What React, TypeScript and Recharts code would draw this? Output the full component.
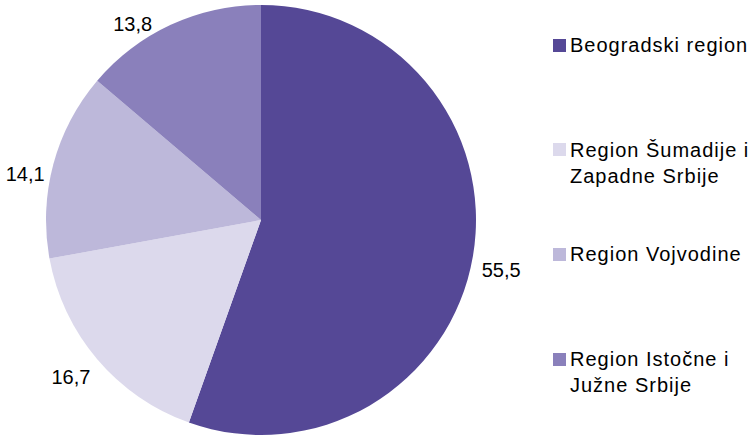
import React from 'react';
import { PieChart, Pie, Cell, Legend } from 'recharts';

const regions = ['Beogradski region', 'Region Šumadije i Zapadne Srbije', 'Region Vojvodine', 'Region Istočne i Južne Srbije'];
const shares = [55.5, 16.7, 14.1, 13.8];
const colors = ['#554896', '#dcd9ec', '#bdb8da', '#8a80bb'];

const data = regions.map((name, i) => ({ name, value: shares[i] }));

const FONT = '"Liberation Sans", Arial, sans-serif';
const RAD = Math.PI / 180;

const renderLabel = (props: any) => {
  const { cx, cy, midAngle, outerRadius, value } = props;
  const r = outerRadius + 9;
  const c = Math.cos(-midAngle * RAD);
  const s = Math.sin(-midAngle * RAD);
  let x = cx + r * c;
  let y = cy + r * s + (s < -0.7 ? -12 : 12);
  if (y < 24) y = 24;
  // keep the label box clear of the pie
  const nearY = y - 10 > cy ? y - 10 : y + 10 < cy ? y + 10 : cy;
  const dyy = nearY - cy;
  if (Math.abs(dyy) < outerRadius) {
    const half = Math.sqrt(outerRadius * outerRadius - dyy * dyy);
    if (c < 0) x = Math.min(x, cx - half - 1);
    else x = Math.max(x, cx + half + 1);
  }
  return (
    <text x={x} y={y} textAnchor={c < 0 ? 'end' : 'start'} dominantBaseline="central" fontSize={20} fontFamily={FONT} fill="#000">
      {String(value).replace('.', ',')}
    </text>
  );
};

const renderLegend = () => (
  <div style={{ paddingTop: 32 }}>
    {regions.map((name, i) => (
      <div key={name} style={{ position: 'relative', height: 104.7 }}>
        <div style={{ position: 'absolute', left: 0, top: 6.5, width: 13, height: 13, background: colors[i] }} />
        <div style={{ position: 'absolute', left: 17, top: 0, width: 184, fontFamily: FONT, fontSize: 20, lineHeight: '26px', letterSpacing: 1, color: '#000' }}>
          {name}
        </div>
      </div>
    ))}
  </div>
);

export default function App() {
  return (
    <div style={{ position: 'absolute', left: 0, top: 0, width: 750, height: 435, overflow: 'hidden', background: '#fff' }}>
      <PieChart width={750} height={435} margin={{ top: 0, right: 0, bottom: 0, left: 0 }}>
        <Pie
          data={data}
          dataKey="value"
          nameKey="name"
          cx={261}
          cy={220}
          outerRadius={215}
          startAngle={90}
          endAngle={-270}
          stroke="none"
          label={renderLabel}
          labelLine={false}
          isAnimationActive={false}
        >
          {data.map((d, i) => (
            <Cell key={d.name} fill={colors[i]} />
          ))}
        </Pie>
        <Legend
          content={renderLegend}
          wrapperStyle={{ position: 'absolute', left: 553, top: 0, width: 197, height: 435 }}
        />
      </PieChart>
    </div>
  );
}
